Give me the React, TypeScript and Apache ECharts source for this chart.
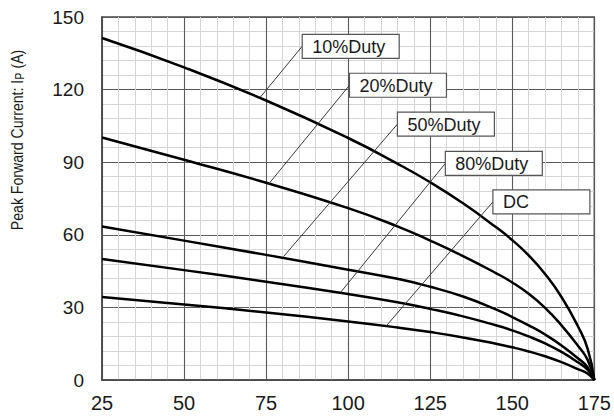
import React, { useEffect, useRef } from "react";
import * as echarts from "echarts";

// Case temperature (°C)
const xValues = [25, 50, 75, 100, 115, 125, 135, 145, 150, 155, 160, 165, 170, 173, 175];
// Peak forward current (A) per duty
const duty10 = [141.3, 129.2, 115.5, 100.0, 89.4, 81.7, 73.0, 63.2, 57.8, 51.5, 43.8, 34.3, 22.2, 12.8, 0];
const duty20 = [100.2, 91.0, 81.5, 71.0, 63.5, 57.6, 51.2, 44.2, 40.3, 35.6, 29.8, 22.6, 14.2, 8.2, 0];
const duty50 = [63.4, 57.6, 51.7, 45.6, 41.8, 38.5, 34.5, 29.2, 26.0, 22.6, 18.8, 14.3, 9.0, 5.2, 0];
const duty80 = [50.0, 45.4, 40.6, 35.5, 32.1, 29.4, 26.3, 22.6, 20.5, 18.0, 15.1, 11.6, 7.3, 4.2, 0];
const dutyDC = [34.3, 31.2, 27.9, 24.2, 21.7, 19.8, 17.6, 15.0, 13.5, 11.8, 9.8, 7.4, 4.5, 2.6, 0];

const seriesNames = ["10%Duty", "20%Duty", "50%Duty", "80%Duty", "DC"];
const seriesData = [duty10, duty20, duty50, duty80, dutyDC];

// annotation boxes: anchor (left-middle of box) and leader tip in data coords
const labelTexts = ["10%Duty", "20%Duty", "50%Duty", "80%Duty", "DC"];
const boxX = [86.0, 100.4, 115.0, 129.6, 144.1];
const boxY = [137.9, 121.8, 105.7, 89.5, 73.6];
const tipX = [73.2, 75.8, 80.3, 97.7, 111.7];
const tipY = [116.8, 81.0, 51.0, 36.2, 22.5];

const FONT = "Liberation Sans";

export default function App() {
  const ref = useRef<HTMLDivElement>(null);
  useEffect(() => {
    if (!ref.current) return;
    const chart = echarts.init(ref.current, undefined, { renderer: "svg" });
    const option: any = {
      animation: false,
      backgroundColor: "#ffffff",
      textStyle: { fontFamily: FONT },
      grid: {
        left: 102,
        right: 11,
        top: 17,
        bottom: 37,
        show: true,
        borderColor: "#4a4a4a",
        borderWidth: 1.5,
        backgroundColor: "#ffffff",
      },
      xAxis: {
        type: "value",
        min: 25,
        max: 175,
        interval: 25,
        axisLine: { show: true, lineStyle: { color: "#4a4a4a", width: 1.5 } },
        axisTick: { show: false },
        axisLabel: { color: "#1a1a1a", fontSize: 20, margin: 13, fontFamily: FONT },
        splitLine: { show: true, lineStyle: { color: "#5a5a5a", width: 1.1 } },
        minorTick: { show: false, splitNumber: 5 },
        minorSplitLine: { show: true, lineStyle: { color: "#d6d6d6", width: 1 } },
      },
      yAxis: {
        type: "value",
        min: 0,
        max: 150,
        interval: 30,
        axisLine: { show: true, lineStyle: { color: "#4a4a4a", width: 1.5 } },
        axisTick: { show: false },
        axisLabel: { color: "#1a1a1a", fontSize: 19, margin: 18, fontFamily: FONT },
        splitLine: { show: true, lineStyle: { color: "#5a5a5a", width: 1.1 } },
        minorTick: { show: false, splitNumber: 5 },
        minorSplitLine: { show: true, lineStyle: { color: "#d6d6d6", width: 1 } },
      },
      series: seriesData.map((d, i) => ({
        name: seriesNames[i],
        type: "line",
        data: xValues.map((x, j) => [x, d[j]]),
        showSymbol: false,
        symbol: "none",
        smooth: 0.5,
        lineStyle: { color: "#000000", width: 2.5 },
        z: 3,
      })),
    };
    chart.setOption(option);

    const graphics: any[] = [];
    labelTexts.forEach((t, i) => {
      const b = chart.convertToPixel({ gridIndex: 0 }, [boxX[i], boxY[i]]) as number[];
      const p = chart.convertToPixel({ gridIndex: 0 }, [tipX[i], tipY[i]]) as number[];
      graphics.push({
        type: "line",
        shape: { x1: p[0], y1: p[1], x2: b[0], y2: b[1] },
        style: { stroke: "#3a3a3a", lineWidth: 1 },
        z: 10,
      });
      graphics.push({
        type: "rect",
        shape: { x: b[0], y: b[1] - 12, width: 97, height: 24 },
        style: { fill: "#ffffff", stroke: "#555555", lineWidth: 1.2 },
        z: 11,
      });
      graphics.push({
        type: "text",
        x: b[0] + 10,
        y: b[1] + 0.5,
        style: {
          text: t,
          fill: "#1a1a1a",
          fontSize: 18,
          fontFamily: FONT,
          align: "left",
          verticalAlign: "middle",
        },
        z: 12,
      });
    });
    graphics.push({
      type: "text",
      x: 17.5,
      y: 140,
      rotation: Math.PI / 2,
      scaleX: 0.83,
      style: {
        text: "{a|Peak Forward Current: I}{b|P}{a| (A)}",
        align: "center",
        verticalAlign: "middle",
        fill: "#1a1a1a",
        fontSize: 17,
        fontFamily: FONT,
        rich: {
          a: { fontSize: 17, fontFamily: FONT, fill: "#1a1a1a", verticalAlign: "bottom" },
          b: { fontSize: 13, fontFamily: FONT, fill: "#1a1a1a", verticalAlign: "bottom" },
        },
      },
      z: 12,
    });
    chart.setOption({ graphic: graphics });

    return () => chart.dispose();
  }, []);
  return (
    <div
      ref={ref}
      style={{ position: "fixed", left: 0, top: 0, width: 614, height: 417 }}
    />
  );
}
